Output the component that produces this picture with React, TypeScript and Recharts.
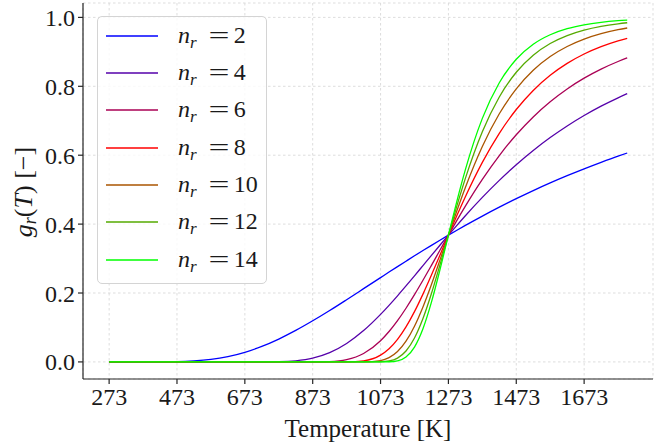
import { LineChart, Line, XAxis, YAxis, CartesianGrid, Legend } from 'recharts';

// temperature samples [K]
const temperatures = [
  273, 373, 473, 523, 573, 623, 673, 723, 773, 823, 873, 923, 973, 1023, 1073, 1098, 1123, 1148,
  1173, 1198, 1223, 1248, 1273, 1298, 1323, 1373, 1423, 1473, 1523, 1573, 1623, 1673, 1723, 1773, 1800,
];

// g_r(T), one list per n_r
const gN2 = [
  0, 0, 0.0007, 0.0027, 0.0072, 0.0154, 0.0279, 0.045, 0.0664, 0.0914, 0.1193, 0.1492, 0.1806, 0.2126,
  0.2447, 0.2608, 0.2767, 0.2924, 0.308, 0.3233, 0.3384, 0.3533, 0.3679, 0.3822, 0.3962, 0.4233, 0.4492,
  0.4738, 0.4973, 0.5195, 0.5405, 0.5604, 0.5793, 0.5973, 0.6064,
];
const gN4 = [
  0, 0, 0, 0, 0, 0, 0, 0.0001, 0.0006, 0.0033, 0.0109, 0.0268, 0.0534, 0.0909, 0.1379, 0.1642, 0.1918,
  0.2205, 0.2498, 0.2795, 0.3092, 0.3387, 0.3679, 0.3965, 0.4244, 0.4776, 0.527, 0.5724, 0.6138, 0.6512,
  0.6849, 0.7152, 0.7423, 0.7666, 0.7787,
];
const gN6 = [
  0, 0, 0, 0, 0, 0, 0, 0, 0, 0, 0.0001, 0.001, 0.0066, 0.0244, 0.0615, 0.0882, 0.1198, 0.1558, 0.1952,
  0.237, 0.2803, 0.3242, 0.3679, 0.4107, 0.4522, 0.5298, 0.599, 0.6593, 0.7111, 0.7551, 0.7923, 0.8236,
  0.8499, 0.872, 0.8824,
];
const gN8 = [
  0, 0, 0, 0, 0, 0, 0, 0, 0, 0, 0, 0, 0.0002, 0.0032, 0.0197, 0.0382, 0.0655, 0.1017, 0.146, 0.1968,
  0.2521, 0.3098, 0.3679, 0.4249, 0.4796, 0.5792, 0.6635, 0.7326, 0.788, 0.8319, 0.8665, 0.8937, 0.915,
  0.9318, 0.9393,
];
const gN10 = [
  0, 0, 0, 0, 0, 0, 0, 0, 0, 0, 0, 0, 0, 0.0001, 0.004, 0.0124, 0.0301, 0.0601, 0.1037, 0.1596, 0.2247,
  0.2954, 0.3679, 0.439, 0.5065, 0.6254, 0.7202, 0.7926, 0.8467, 0.8865, 0.9156, 0.937, 0.9527, 0.9642,
  0.9692,
];
const gN12 = [
  0, 0, 0, 0, 0, 0, 0, 0, 0, 0, 0, 0, 0, 0, 0.0004, 0.0027, 0.0111, 0.0316, 0.0693, 0.1259, 0.1984,
  0.2812, 0.3679, 0.453, 0.5327, 0.668, 0.769, 0.8407, 0.8902, 0.9241, 0.9472, 0.963, 0.9739, 0.9814,
  0.9845,
];
const gN14 = [
  0, 0, 0, 0, 0, 0, 0, 0, 0, 0, 0, 0, 0, 0, 0, 0.0004, 0.0031, 0.0143, 0.0431, 0.0963, 0.1734, 0.2671,
  0.3679, 0.4669, 0.5582, 0.7069, 0.8104, 0.8784, 0.922, 0.9496, 0.9672, 0.9784, 0.9857, 0.9904, 0.9922,
];

const nValues = [2, 4, 6, 8, 10, 12, 14];
const seriesValues = [gN2, gN4, gN6, gN8, gN10, gN12, gN14];
const colors = ['#0000ff', '#5500aa', '#aa0055', '#ff0000', '#aa5500', '#55aa00', '#00ff00'];

const xTicks = [273, 473, 673, 873, 1073, 1273, 1473, 1673];
const yTicks = [0, 0.2, 0.4, 0.6, 0.8, 1.0];

const FONT = "'Liberation Serif', 'Times New Roman', serif";
const INK = '#1a1a1a';
const SPINE = { stroke: '#262626', strokeWidth: 1.2 };
const X_DOMAIN: [number, number] = [196, 1876];
const Y_DOMAIN: [number, number] = [-0.0496, 1.0418];

const data = temperatures.map((T, i) => {
  const row: Record<string, number> = { T };
  nValues.forEach((n, k) => {
    row[`n${n}`] = seriesValues[k][i];
  });
  return row;
});

function LegendBox() {
  return (
    <div
      style={{
        width: 170,
        height: 268,
        boxSizing: 'border-box',
        border: '1px solid #d4d4d4',
        borderRadius: 5,
        background: 'rgba(255,255,255,0.8)',
        paddingTop: 1,
        fontFamily: FONT,
        fontSize: 24,
        color: INK,
      }}
    >
      {nValues.map((n, k) => (
        <div key={n} style={{ height: 37.33, display: 'flex', alignItems: 'center' }}>
          <svg width={61} height={6} style={{ flex: 'none' }}>
            <line x1={8} y1={2} x2={60} y2={2} stroke={colors[k]} strokeWidth={1.4} />
          </svg>
          <span style={{ marginLeft: 19, whiteSpace: 'nowrap', lineHeight: 1 }}>
            <i>n</i>
            <i style={{ fontSize: 17, verticalAlign: '-0.3em' }}>r</i>
            <span
              style={{
                display: 'inline-block',
                width: 16,
                marginLeft: 14,
                marginRight: 7,
                textAlign: 'center',
                transform: 'scaleX(1.55)',
              }}
            >
              =
            </span>
            {n}
          </span>
        </div>
      ))}
    </div>
  );
}

export default function App() {
  return (
    <div style={{ position: 'absolute', left: 0, top: 0, background: '#fff' }}>
      <LineChart
        width={671}
        height={448}
        data={data}
        margin={{ top: 3, right: 18, left: 0, bottom: 0 }}
        style={{ fontFamily: FONT }}
      >
        <CartesianGrid stroke="#d9d9d9" strokeDasharray="2.5 2.5" strokeWidth={0.9} />
        <XAxis
          dataKey="T"
          type="number"
          domain={X_DOMAIN}
          allowDataOverflow
          ticks={xTicks}
          height={69}
          tickSize={5}
          tickMargin={4}
          axisLine={SPINE}
          tickLine={SPINE}
          tick={{ fill: INK, fontSize: 24, fontFamily: FONT }}
          label={{
            value: 'Temperature [K]',
            position: 'insideBottom',
            offset: 11,
            fill: INK,
            fontSize: 25,
            fontFamily: FONT,
          }}
        />
        <XAxis
          xAxisId="top"
          orientation="top"
          type="number"
          domain={X_DOMAIN}
          allowDataOverflow
          height={0}
          tick={false}
          tickLine={false}
          axisLine={SPINE}
        />
        <YAxis
          type="number"
          domain={Y_DOMAIN}
          allowDataOverflow
          ticks={yTicks}
          width={83}
          tickSize={5}
          tickMargin={3}
          axisLine={SPINE}
          tickLine={SPINE}
          tickFormatter={(v: number) => v.toFixed(1)}
          tick={{ fill: INK, fontSize: 24, fontFamily: FONT }}
        />
        <YAxis
          yAxisId="right"
          orientation="right"
          type="number"
          domain={[0, 1]}
          width={0}
          tick={false}
          tickLine={false}
          axisLine={SPINE}
        />
        {nValues.map((n, k) => (
          <Line
            key={n}
            type="monotone"
            dataKey={`n${n}`}
            name={`n_r = ${n}`}
            stroke={colors[k]}
            strokeWidth={1.3}
            dot={false}
            activeDot={false}
            isAnimationActive={false}
          />
        ))}
        <Legend
          layout="vertical"
          align="center"
          verticalAlign="middle"
          wrapperStyle={{ top: 16, left: 97, width: 170, height: 268 }}
          content={() => <LegendBox />}
        />
        <text
          transform="rotate(-90, 32, 192)"
          x={32}
          y={192}
          textAnchor="middle"
          fill={INK}
          fontSize={26}
          fontFamily={FONT}
        >
          <tspan fontStyle="italic">g</tspan>
          <tspan fontStyle="italic" fontSize={18} dy={4}>r</tspan>
          <tspan dy={-4}>(</tspan>
          <tspan fontStyle="italic">T</tspan>
          <tspan>) [−]</tspan>
        </text>
      </LineChart>
    </div>
  );
}
